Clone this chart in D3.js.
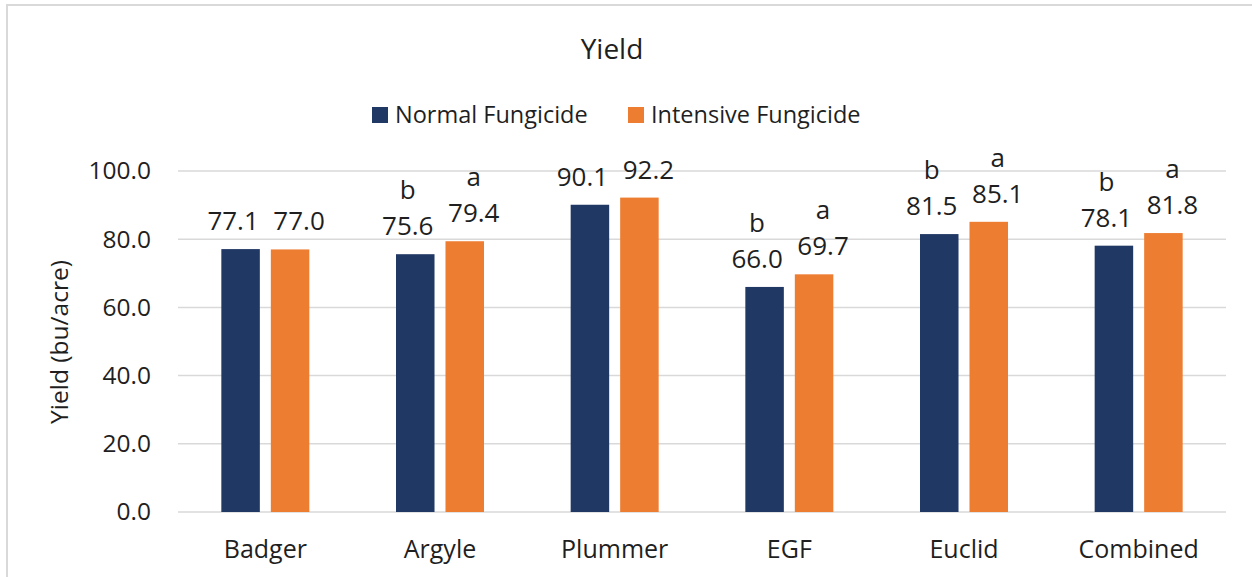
<!DOCTYPE html>
<html>
<head>
<meta charset="utf-8">
<script src="https://cdn.jsdelivr.net/npm/d3@7"></script>
<style>
  html, body { margin: 0; padding: 0; background: #fff; }
  svg { display: block; }
  text { font-family: "Open Sans", sans-serif; fill: #1f1f1f; }
</style>
</head>
<body>
<svg id="chart" width="1252" height="577"></svg>
<script>
const categories = ["Badger", "Argyle", "Plummer", "EGF", "Euclid", "Combined"];
const seriesNames = ["Normal Fungicide", "Intensive Fungicide"];
const normalValues = [77.1, 75.6, 90.1, 66.0, 81.5, 78.1];
const intensiveValues = [77.0, 79.4, 92.2, 69.7, 85.1, 81.8];
const normalLetters = ["", "b", "", "b", "b", "b"];
const intensiveLetters = ["", "a", "", "a", "a", "a"];
const yTicks = [0, 20, 40, 60, 80, 100];
const seriesColors = ["#203864", "#ED7D31"];

const svg = d3.select("#chart");

// chart frame
svg.append("rect").attr("x", 7).attr("y", 5).attr("width", 1400).attr("height", 800)
  .attr("fill", "none").attr("stroke", "#d9d9d9").attr("stroke-width", 2);

const plot = { left: 178, right: 1226, top: 171, bottom: 512 };

const y = d3.scaleLinear().domain([0, 100]).range([plot.bottom, plot.top]);
const x0 = d3.scaleBand().domain(categories).range([plot.left, plot.right]).padding(0);
const groupW = x0.bandwidth() * 88 / 174.67;
const x1 = d3.scaleBand().domain(seriesNames).range([0, groupW]).paddingInner(0.222).paddingOuter(0);
// labels of the two bars in a group are nudged apart so they do not collide
const labelNudge = { [seriesNames[0]]: -7.5, [seriesNames[1]]: 9 };

// gridlines
svg.append("g").selectAll("line").data(yTicks).join("line")
  .attr("x1", plot.left).attr("x2", plot.right)
  .attr("y1", d => y(d)).attr("y2", d => y(d))
  .attr("stroke", "#d9d9d9").attr("stroke-width", 1.5);

// y axis labels
const yAxis = d3.axisLeft(y).tickValues(yTicks).tickFormat(d3.format(".1f")).tickSize(0).tickPadding(27);
const yg = svg.append("g").attr("transform", `translate(${plot.left},0)`).call(yAxis);
yg.select(".domain").remove();
yg.selectAll("text").attr("font-size", 24.5).attr("font-family", "Open Sans").attr("fill", "#1f1f1f");

// x axis labels
const xAxis = d3.axisBottom(x0).tickSize(0).tickPadding(0);
const xg = svg.append("g").attr("transform", `translate(0,${plot.bottom})`).call(xAxis);
xg.select(".domain").remove();
xg.selectAll("text").attr("font-size", 25).attr("font-family", "Open Sans").attr("fill", "#1f1f1f")
  .attr("dy", null).attr("y", 45.5);

// data
const rows = categories.map((c, i) => ({
  cat: c,
  vals: [
    { s: seriesNames[0], v: normalValues[i], letter: normalLetters[i], color: seriesColors[0] },
    { s: seriesNames[1], v: intensiveValues[i], letter: intensiveLetters[i], color: seriesColors[1] }
  ]
}));

const groups = svg.append("g").selectAll("g").data(rows).join("g")
  .attr("transform", d => `translate(${x0(d.cat) + (x0.bandwidth() - groupW) / 2},0)`);

groups.selectAll("rect").data(d => d.vals).join("rect")
  .attr("x", d => x1(d.s)).attr("width", x1.bandwidth())
  .attr("y", d => y(d.v)).attr("height", d => y(0) - y(d.v))
  .attr("fill", d => d.color);

groups.selectAll("text.val").data(d => d.vals).join("text").attr("class", "val")
  .attr("x", d => x1(d.s) + x1.bandwidth() / 2 + labelNudge[d.s])
  .attr("y", d => y(d.v) - 19)
  .attr("text-anchor", "middle").attr("font-size", 26)
  .text(d => d.v.toFixed(1));

groups.selectAll("text.let").data(d => d.vals.filter(v => v.letter)).join("text").attr("class", "let")
  .attr("x", d => x1(d.s) + x1.bandwidth() / 2 + labelNudge[d.s])
  .attr("y", d => y(d.v) - 19 - 36)
  .attr("text-anchor", "middle").attr("font-size", 26)
  .text(d => d.letter);

// title
svg.append("text").attr("x", 612).attr("y", 59).attr("text-anchor", "middle")
  .attr("font-size", 28).text("Yield");

// y axis title
svg.append("text").attr("transform", "translate(68,342) rotate(-90)")
  .attr("text-anchor", "middle").attr("font-size", 24.5).text("Yield (bu/acre)");

// legend
const legendItems = [
  { name: seriesNames[0], color: seriesColors[0], x: 372 },
  { name: seriesNames[1], color: seriesColors[1], x: 628 }
];
const lg = svg.append("g").selectAll("g").data(legendItems).join("g")
  .attr("transform", d => `translate(${d.x},0)`);
lg.append("rect").attr("x", 0).attr("y", 107).attr("width", 16).attr("height", 16).attr("fill", d => d.color);
lg.append("text").attr("x", 23).attr("y", 123).attr("font-size", 23.5).text(d => d.name);
</script>
</body>
</html>
